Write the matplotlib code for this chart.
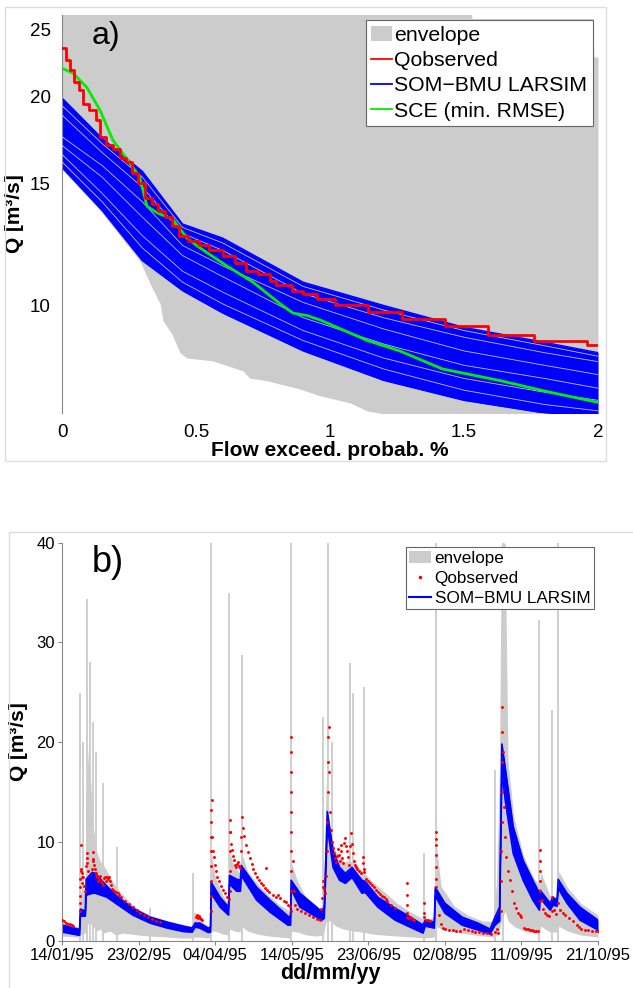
import numpy as np
import matplotlib
matplotlib.use('Agg')
import matplotlib.pyplot as plt
import matplotlib.dates as mdates
from matplotlib.patches import Patch, Rectangle
from matplotlib.lines import Line2D

plt.rcParams['font.family'] = ['Liberation Sans', 'DejaVu Sans']

# ---------------- panel a: flow duration curves ----------------
# envelope of all parameter sets
env_a_x = [0, 0.142, 0.29, 0.336, 0.366, 0.377, 0.41, 0.44, 0.466, 0.563,
           0.675, 0.70, 0.765, 0.888, 0.963, 1.075, 1.138, 1.198, 1.3, 1.51,
           1.53, 1.98, 1.985, 2.0]
env_a_lo = [15.7, 13.7, 11.6, 10.6, 10.06, 9.5, 9.1, 8.55, 8.4, 8.32,
            8.05, 7.86, 7.79, 7.58, 7.41, 7.24, 7.05, 6.98, 6.5, 6.5,
            6.5, 6.5, 6.5, 6.5]
env_a_hi = [30, 30, 30, 30, 30, 30, 30, 30, 30, 30,
            30, 30, 30, 30, 30, 30, 30, 30, 30, 30,
            25.9, 25.9, 22.8, 22.8]

# SOM-BMU LARSIM bundle (outer edges + visible gaps between curves)
som_x = [0, 0.15, 0.3, 0.45, 0.6, 0.9, 1.2, 1.5, 1.8, 2.0]
som_hi = [19.9, 17.4, 15.6, 13.1, 12.5, 10.8, 10.0, 9.3, 8.85, 8.55]
som_lo = [15.8, 13.7, 11.6, 10.5, 9.75, 8.6, 7.8, 7.3, 7.0, 6.9]
som_gaps = [
    [19.4, 17.1, 15.3, 12.95, 12.3, 10.65, 9.85, 9.2, 8.75, 8.45],
    [18.8, 16.6, 14.8, 12.7, 12.0, 10.4, 9.6, 9.0, 8.55, 8.3],
    [17.5, 15.9, 14.1, 12.2, 11.4, 10.1, 9.25, 8.6, 8.2, 7.95],
    [17.0, 15.3, 13.4, 11.8, 11.0, 9.6, 8.8, 8.2, 7.85, 7.6],
    [16.5, 14.5, 12.6, 11.2, 10.45, 9.2, 8.4, 7.85, 7.5, 7.3],
    [16.1, 14.1, 12.1, 10.8, 10.05, 8.9, 8.1, 7.55, 7.2, 7.05],
]

# observed flow duration curve (staircase)
obs_a_x = [0, 0.015, 0.03, 0.045, 0.065, 0.08, 0.10, 0.125, 0.14, 0.165, 0.19,
           0.215, 0.24, 0.26, 0.285, 0.31, 0.335, 0.36, 0.385, 0.41, 0.435,
           0.47, 0.51, 0.55, 0.60, 0.645, 0.685, 0.73, 0.775, 0.80, 0.86,
           0.90, 0.95, 1.02, 1.14, 1.27, 1.43, 1.59, 1.76, 1.96, 2.0]
obs_a_q = [23.5, 22.6, 21.8, 21.0, 20.4, 19.5, 19.1, 18.5, 17.5, 17.0, 16.8,
           16.3, 16.1, 15.5, 15.0, 14.3, 14.0, 13.7, 13.4, 13.0, 12.6,
           12.4, 12.2, 12.0, 11.8, 11.5, 11.2, 11.1, 10.85, 10.7, 10.5,
           10.4, 10.2, 10.0, 9.8, 9.55, 9.35, 9.07, 8.88, 8.78, 8.78]

# SCE best run
sce_x = [0, 0.041, 0.093, 0.142, 0.19, 0.24, 0.29, 0.317, 0.354, 0.414, 0.466,
         0.515, 0.615, 0.713, 0.813, 0.862, 0.914, 0.963, 1.14, 1.26, 1.42,
         1.63, 1.82, 2.0]
sce_q = [21.96, 21.6, 20.6, 19.1, 17.3, 16.3, 15.3, 13.9, 13.6, 13.3, 12.5,
         12.1, 11.4, 10.8, 10.06, 9.75, 9.67, 9.53, 8.9, 8.6, 8.1,
         7.8, 7.5, 7.25]

# ---------------- panel b: hydrographs (days after 14/01/95) ----------------
env_day = [0, 8, 9.2, 9.6, 12, 12.6, 14, 16, 18, 20, 22, 25, 28, 32, 36, 40, 46,
           55, 62, 68, 69, 72, 76, 77.5, 78, 80, 84, 87, 87.5, 90, 93, 93.6, 97,
           102, 108, 114, 119, 119.6, 123, 128, 133, 136.5, 138, 140, 143, 147,
           152, 157, 162, 168, 175, 183, 189, 194.5, 195.4, 198, 205, 212, 220,
           225, 227, 228.5, 229.5, 231.5, 233, 236, 241, 246, 249.5, 250, 255,
           259, 259.5, 264, 271, 280]
env_lo = [0.5, 0.4, 0.4, 0.6, 0.8, 1.0, 2.0, 1.5, 1.0, 1.2, 0.8, 1.0, 0.6, 0.8,
          0.7, 0.6, 0.5, 0.4, 0.3, 0.3, 0.4, 0.4, 0.3, 0.4, 1.0, 1.0, 0.7, 0.6,
          1.2, 1.0, 0.9, 1.5, 1.0, 0.7, 0.5, 0.4, 0.3, 1.0, 0.9, 0.6, 0.5, 0.6,
          2.0, 2.0, 1.5, 1.2, 1.0, 0.9, 0.7, 0.6, 0.5, 0.4, 0.3, 0.4, 1.5, 1.2,
          0.9, 0.7, 0.5, 0.4, 0.6, 1.0, 2.0, 3.0, 2.0, 1.5, 1.0, 0.8, 0.7, 1.5,
          0.9, 0.9, 1.5, 1.0, 0.6, 0.4]
env_hi = [1.9, 1.4, 1.5, 5.0, 5.0, 15.0, 20.0, 12.0, 9.0, 8.0, 7.5, 6.5, 5.5,
          4.6, 3.8, 3.2, 2.6, 2.0, 1.6, 1.5, 3.0, 2.2, 1.5, 1.5, 9.0, 6.5, 4.6,
          3.8, 9.0, 7.5, 6.8, 9.0, 7.0, 5.8, 4.6, 3.6, 3.0, 8.0, 6.0, 4.2, 3.4,
          3.2, 16.0, 11.0, 9.0, 8.0, 8.0, 7.0, 6.0, 5.0, 3.8, 2.8, 2.2, 2.4,
          10.0, 5.5, 3.5, 2.6, 2.0, 2.0, 6.0, 17.0, 40.0, 40.0, 18.0, 12.5,
          8.6, 6.5, 5.5, 7.0, 4.5, 4.4, 7.0, 5.4, 3.8, 2.6]

spike_day = [9.4, 11, 13.0, 14.5, 16, 17.5, 21.6, 28.7, 46, 68.5, 77.8, 87.4,
             93.9, 119.6, 136.3, 138.9, 141, 150.4, 152, 157.8, 189.1, 195.4,
             226.2, 230.4, 249.2, 256, 259.1]
spike_top = [24.9, 20, 34.4, 28, 22, 19, 15.9, 9.4, 3.3, 6.8, 40, 35.0,
             28.7, 40, 22.5, 40, 20, 27.9, 24.9, 25.5, 8.8, 40,
             17.2, 40, 32.3, 23.2, 40]

som_day = [0, 8.4, 9.2, 9.6, 12.2, 12.6, 15.8, 17.5, 23.5, 28.7, 37, 46, 55,
           63.4, 68, 69.5, 72, 76.4, 77.6, 77.9, 82.6, 87, 87.5, 91.3, 93.2,
           93.6, 101.7, 108.7, 118, 119.4, 119.7, 124.3, 133, 135.8, 137.0,
           138.6, 141.6, 145, 148, 151.5, 156.7, 158.3, 165, 174, 182.9, 188.6,
           189.7, 194.5, 195.0, 200, 209, 217.3, 223.6, 226.2, 228.6, 229.8,
           231.5, 235.7, 240.9, 246, 249.4, 249.8, 255, 256.5, 258.6, 259.2,
           263.8, 270.6, 280]
som_b_lo = [0.9, 0.6, 0.6, 2.5, 2.5, 4.6, 4.8, 4.8, 4.4, 3.7, 2.6, 1.8, 1.3,
            0.95, 0.9, 1.4, 1.3, 0.85, 0.9, 4.8, 3.4, 2.6, 5.7, 5.0, 5.0,
            6.6, 4.1, 2.9, 1.6, 1.6, 5.2, 3.4, 2.4, 2.1, 2.3,
            11.5, 7.4, 6.1, 5.8, 6.4, 4.8, 4.9, 3.4, 2.1, 1.3, 0.8,
            1.5, 1.3, 4.5, 2.8, 1.6, 1.1, 0.7, 1.6, 2.0, 17.0,
            14.2, 8.8, 6.1, 4.1, 3.1, 4.3, 3.1, 3.6, 3.5, 5.3,
            3.8, 2.1, 1.1]
som_b_hi = [1.6, 1.2, 1.2, 3.2, 3.0, 6.2, 6.9, 6.8, 5.5, 4.5, 3.3, 2.4, 1.9,
            1.5, 1.3, 1.8, 1.8, 1.3, 1.4, 5.9, 4.4, 3.4, 6.6, 6.2, 6.1,
            7.6, 5.4, 4.1, 2.5, 2.4, 6.1, 4.8, 3.4, 2.9, 3.5,
            13.0, 9.1, 7.4, 6.8, 7.4, 6.1, 6.0, 4.4, 3.3, 2.3, 1.6,
            2.1, 1.9, 5.4, 3.8, 2.4, 1.8, 1.2, 2.4, 3.4, 19.8,
            17.5, 11.5, 8.1, 6.1, 4.8, 5.1, 3.8, 4.4, 4.1, 6.2,
            4.8, 3.4, 2.1]

obs_day = [0, 1, 2, 3, 4, 5, 6,
           9.4, 9.45, 9.5, 9.55, 9.6, 9.7, 9.8, 10, 10.3, 10.5, 10.6, 11, 11.5, 12,
           12.5, 12.8, 13, 13.3, 13.6, 15.8, 16, 16.2, 16.4, 16.7, 17, 17.5, 18,
           18.5, 19, 19.5, 20, 20.5, 21, 21.5, 22, 22.5, 23, 23.5, 24, 24.5, 25,
           25.5, 26, 26.5, 27, 28, 29, 30, 31, 33, 35, 37, 39, 41, 43, 45, 47,
           49, 51,
           70.2, 70.6, 71, 71.5, 72, 72.5, 73,
           77.7, 77.75, 77.8, 77.85, 77.9, 77.95, 78, 78.05, 78.1, 78.5, 79,
           79.5, 80, 80.5, 81, 82, 83, 84, 85, 86, 87,
           87.5, 87.55, 87.6, 87.65, 87.7, 88, 88.5, 89, 89.5, 90, 90.5, 91,
           91.5, 92, 92.5, 93,
           93.7, 93.75, 93.8, 94.5, 95, 96, 97, 98, 99, 100, 101, 102, 103, 104,
           105, 106, 106.5, 107, 108, 110, 112, 113, 114, 116, 117, 118, 119,
           119.5, 119.52, 119.55, 119.58, 119.6, 119.62, 119.65, 119.68, 119.7,
           119.72, 120.5, 121, 121.5, 123, 125, 127, 129, 131, 133, 135,
           135.5, 136, 136.3, 136.6, 137, 137.5, 138, 138.3, 138.5, 138.7, 138.9,
           139.1, 139.3, 139.6, 140, 140.5, 141, 141.5, 142, 142.5, 143, 143.5,
           144, 144.5, 145, 145.5, 146, 146.5, 147, 147.5, 148, 148.5, 149,
           149.5, 150, 150.5, 151, 151.5, 152, 152.5, 153, 153.5, 154, 155, 156,
           157, 157.3, 157.6, 158, 159, 160, 161, 162, 163, 164, 165, 166, 167,
           168, 169, 170, 172, 174,
           180.1, 180.15, 180.2, 180.25, 180.3, 181, 182, 183, 184,
           188.9, 189, 189.1, 190, 191, 192,
           195.3, 195.35, 195.4, 195.45, 195.5, 195.55, 195.6, 197, 198, 199,
           200, 202, 204, 206, 208, 210, 212, 214, 216, 218, 220, 222, 224, 226,
           227, 228,
           229.4, 229.5, 229.55, 229.6, 229.65, 229.7, 229.75, 229.8, 230.5,
           231, 231.5, 232, 233, 234, 235, 236, 237, 238, 239, 240, 241.5,
           242.5, 243.5, 244.5, 245.5, 246.5, 247.5, 248.5,
           249.6, 249.65, 249.7, 249.75, 249.8, 249.85, 250.5, 251.5, 252.5,
           253.5, 254.5, 255.8, 256.2, 257, 258,
           259, 260, 261.5, 263, 265, 267, 269, 270, 271, 273, 275, 277, 279,
           280]
obs_q = [2.1, 2.0, 1.8, 1.7, 1.7, 1.6, 1.5,
         3.0, 3.8, 4.5, 5.4, 6.2, 7.2, 9.6, 7.0, 6.4, 6.8, 5.8, 6.4, 5.5, 5.0,
         7.5, 8.3, 8.8, 7.8, 7.0, 7.2, 8.0, 8.9, 8.2, 7.6, 7.2, 6.8, 6.6,
         6.4, 6.0, 6.2, 6.5, 6.0, 5.8, 5.6, 6.3, 6.4, 6.0, 6.4, 6.2, 6.4, 6.0,
         5.6, 5.2, 5.1, 5.0, 4.9, 4.8, 4.6, 4.4, 4.0, 3.7, 3.4, 3.1, 2.8, 2.6,
         2.4, 2.2, 2.0, 1.9,
         2.4, 2.6, 2.3, 2.5, 2.3, 2.2, 2.1,
         3.0, 4.5, 6.0, 7.5, 9.0, 10.5, 12.0, 13.2, 14.2, 10.5, 9.0,
         8.4, 7.6, 7.0, 6.4, 6.0, 5.5, 5.1, 4.8, 4.4, 4.2,
         5.0, 7.0, 9.0, 11.0, 12.2, 11.0, 9.7, 9.1, 8.5, 8.1, 7.6, 7.4,
         7.7, 7.9, 7.5, 7.3,
         9.0, 10.5, 12.5, 11.4, 10.6, 9.6, 8.9, 8.3, 7.7, 7.2, 6.8, 6.4, 6.1,
         5.8, 5.6, 5.3, 7.3, 5.1, 4.9, 4.6, 4.4, 4.6, 4.3, 4.0, 3.9, 3.6, 3.5,
         3.0, 5.0, 7.0, 9.0, 11.0, 13.0, 15.0, 17.0, 19.0,
         20.5, 8.0, 5.0, 3.6, 3.2, 3.0, 2.8, 2.6, 2.4, 2.2, 2.1,
         3.2, 4.3, 5.4, 6.0, 5.2, 4.8, 6.5, 9.0, 12.0, 15.0, 18.0,
         20.5, 21.5, 17.0, 13.0, 11.2, 10.0, 9.3, 8.8, 8.3, 7.9, 8.5,
         9.2, 8.6, 8.0, 9.6, 9.0, 8.3, 7.8, 9.8, 10.4, 9.5, 9.0,
         8.4, 7.6, 9.5, 10.9, 9.7, 8.8, 8.0, 7.6, 7.4, 7.2, 7.0, 6.8,
         8.4, 7.8, 7.2, 6.9, 6.2, 6.0, 5.8, 5.6, 5.4, 5.1, 4.9, 4.7, 4.5,
         4.4, 4.2, 4.0, 3.6, 3.3,
         5.8, 4.6, 3.6, 2.8, 2.4, 2.3, 2.4, 2.2, 2.1,
         3.8, 2.8, 2.4, 2.1, 2.1, 2.0,
         11.0, 10.3, 9.6, 8.6, 7.4, 6.2, 5.4, 2.6, 1.7, 1.3,
         1.2, 1.1, 1.1, 1.0, 1.0, 1.2, 1.1, 1.0, 0.9, 0.9, 0.8, 0.8, 0.7, 0.9,
         1.2, 0.8,
         3.0, 6.0, 9.0, 12.0, 15.0, 18.0, 21.0, 23.5, 19.0,
         13.5, 10.5, 8.4, 7.0, 6.1, 5.0, 3.8, 3.3, 2.8, 2.6, 2.4, 1.3,
         1.2, 1.2, 1.1, 1.1, 1.0, 1.0, 1.0,
         4.0, 5.0, 6.0, 7.0, 8.0, 9.1, 4.1, 3.2, 2.8,
         2.6, 2.5, 3.0, 4.4, 3.1, 2.7,
         3.8, 3.1, 2.8, 2.6, 2.3, 2.0, 1.6, 1.4, 1.2, 1.1, 1.1, 1.0, 1.0,
         1.0]

start = np.datetime64('1995-01-14T00:00')
tick_days = [0, 40, 80, 120, 160, 200, 240, 280]


def to_dates(days):
    return start + (np.asarray(days) * 24 * 60).astype('timedelta64[m]')


GRAY = '#cccccc'
SPINE = '#888888'

fig = plt.figure(figsize=(6.33, 9.88), dpi=100)

# light frames around the two panels
fig.add_artist(Rectangle((5 / 633, 1 - 461 / 988), 601 / 633, 454 / 988,
                         transform=fig.transFigure, fill=False,
                         edgecolor='#dddddd', lw=1))
fig.add_artist(Rectangle((9 / 633, -0.01), 1.0, 456 / 988 + 0.01,
                         transform=fig.transFigure, fill=False,
                         edgecolor='#dddddd', lw=1))

# ---- panel a
ax1 = fig.add_axes([62 / 633, 1 - 413 / 988, 536 / 633, 398 / 988])
ax1.set_yscale('log')
ax1.fill_between(env_a_x, env_a_lo, env_a_hi, color=GRAY, lw=0, zorder=1)
ax1.fill_between(som_x, som_lo, som_hi, color='#0000ff', lw=0, zorder=2)
ax1.plot(som_x, som_hi, color='#0000ff', lw=1, zorder=2)
ax1.plot(som_x, som_lo, color='#0000ff', lw=1, zorder=2)
for g in som_gaps:
    ax1.plot(som_x, g, color='#c4c4d4', lw=0.6, zorder=3)
ax1.plot(obs_a_x, obs_a_q, color='#ff0000', lw=2, drawstyle='steps-post', zorder=5)
ax1.plot(sce_x, sce_q, color='#00ee00', lw=2, zorder=4)

ax1.set_xlim(0, 2)
ax1.set_ylim(7, 26.2)
ax1.set_yticks([10, 15, 20, 25])
ax1.set_yticklabels(['10', '15', '20', '25'])
ax1.yaxis.set_minor_locator(matplotlib.ticker.NullLocator())
ax1.set_xticks([0, 0.5, 1, 1.5, 2])
ax1.set_xticklabels(['0', '0.5', '1', '1.5', '2'])
ax1.tick_params(labelsize=13.5, length=0, pad=8)
for s in ['top', 'right', 'bottom']:
    ax1.spines[s].set_visible(False)
ax1.spines['left'].set_color(SPINE)
ax1.set_xlabel('Flow exceed. probab. %', fontsize=15, fontweight='bold', labelpad=0)
ax1.set_ylabel('Q [m³/s]', fontsize=15, fontweight='bold', labelpad=4)
ax1.text(0.055, 0.985, 'a)', transform=ax1.transAxes, fontsize=23, va='top')

h1 = [Patch(facecolor=GRAY, edgecolor='none'),
      Line2D([], [], color='#ff0000', lw=1.3),
      Line2D([], [], color='#0000ff', lw=1.3),
      Line2D([], [], color='#00ee00', lw=1.3)]
leg1 = ax1.legend(h1, ['envelope', 'Qobserved', 'SOM\u2212BMU LARSIM', 'SCE (min. RMSE)'],
                  loc='upper right', fontsize=15.3, fancybox=False, framealpha=1,
                  edgecolor='#666666', borderaxespad=0.25, handlelength=1.0,
                  handletextpad=0.1, labelspacing=0.3, borderpad=0.25)
leg1.get_frame().set_linewidth(0.8)

# ---- panel b
ax2 = fig.add_axes([62 / 633, 47 / 988, 536 / 633, 398 / 988])
ax2.fill_between(to_dates(env_day), env_lo, env_hi, color=GRAY, lw=0, zorder=1)
ax2.vlines(to_dates(spike_day), 0, spike_top, color=GRAY, lw=1.3, zorder=1)
ax2.fill_between(to_dates(som_day), som_b_lo, som_b_hi, color='#0000ff', lw=0, zorder=2)
ax2.plot(to_dates(som_day), som_b_hi, color='#0000ff', lw=1.2, zorder=2)
ax2.plot(to_dates(som_day), som_b_lo, color='#0000ff', lw=1.2, zorder=2)
ax2.plot(to_dates(obs_day), obs_q, ls='none', marker='.', ms=2.2,
         color='#ff0000', zorder=3)

ax2.set_xlim(to_dates([0])[0], to_dates([280])[0])
ax2.set_ylim(0, 40)
ax2.set_yticks([0, 10, 20, 30, 40])
ax2.set_xticks(to_dates(tick_days))
ax2.xaxis.set_major_formatter(mdates.DateFormatter('%d/%m/%y'))
ax2.tick_params(labelsize=12, length=3, color=SPINE, pad=2)
for s in ['top', 'right']:
    ax2.spines[s].set_visible(False)
ax2.spines['left'].set_color(SPINE)
ax2.spines['bottom'].set_color(SPINE)
ax2.set_xlabel('dd/mm/yy', fontsize=15.5, fontweight='bold', labelpad=0)
ax2.set_ylabel('Q [m³/s]', fontsize=15, fontweight='bold', labelpad=6)
ax2.text(0.055, 0.995, 'b)', transform=ax2.transAxes, fontsize=26, va='top')

h2 = [Patch(facecolor=GRAY, edgecolor='none'),
      Line2D([], [], ls='none', marker='.', ms=3, color='#ff0000'),
      Line2D([], [], color='#0000ff', lw=1.5)]
leg2 = ax2.legend(h2, ['envelope', 'Qobserved', 'SOM\u2212BMU LARSIM'],
                  loc='upper right', fontsize=12.3, fancybox=False, framealpha=1,
                  edgecolor='#666666', borderaxespad=0.25, handlelength=1.3,
                  handletextpad=0.2, labelspacing=0.3, borderpad=0.2)
leg2.get_frame().set_linewidth(0.8)

fig.savefig('out.png', dpi=100)
